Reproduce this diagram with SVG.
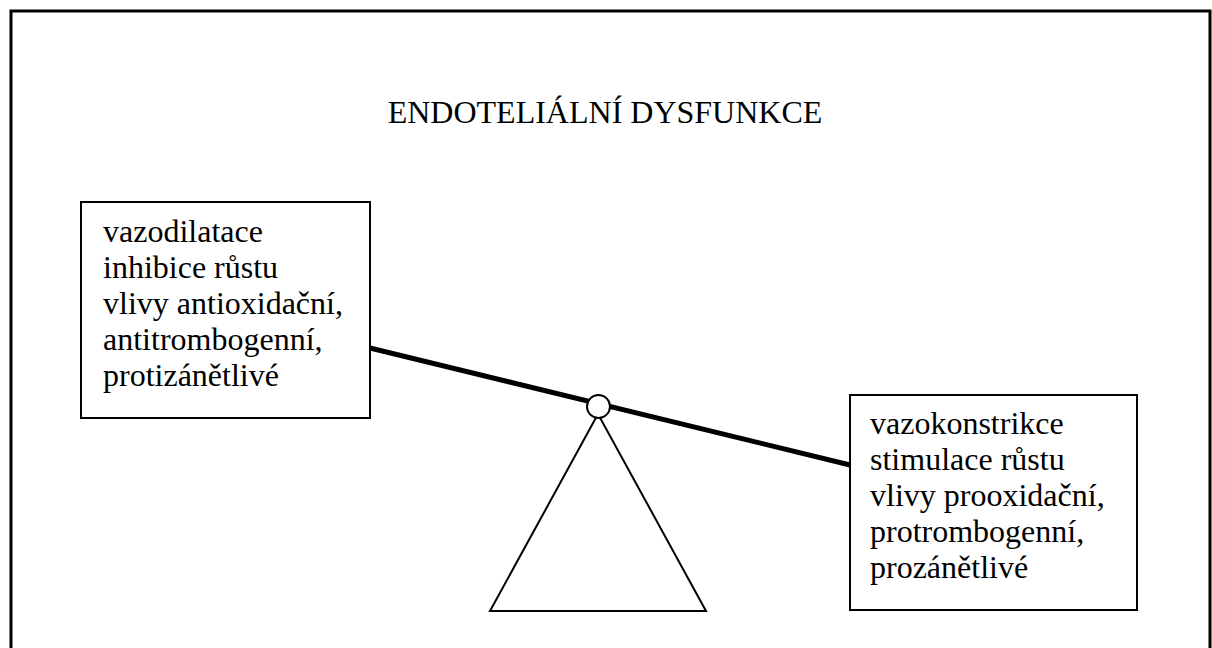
<svg xmlns="http://www.w3.org/2000/svg" width="1212" height="648" viewBox="0 0 1212 648">
<style>
text{font-family:"Liberation Serif","Times New Roman",serif;font-size:32px;fill:#000}
.box{fill:#fff;stroke:#000;stroke-width:2}
.thin{fill:#fff;stroke:#000;stroke-width:2}
</style>
<rect width="1212" height="648" fill="#fff"/>
<path d="M11 660 V11 H1210 V660" fill="none" stroke="#000" stroke-width="3"/>
<text x="605" y="123" text-anchor="middle">ENDOTELIÁLNÍ DYSFUNKCE</text>
<g id="fulcrum">
<polygon class="thin" points="598,414 490,611 706,611"/>
</g>
<g id="connectors">
<line x1="370" y1="348" x2="850" y2="465" stroke="#000" stroke-width="5"/>
</g>
<g id="pivot">
<circle class="thin" cx="598.5" cy="406.5" r="11.5"/>
</g>
<g id="left">
<rect class="box" x="81" y="202" width="289" height="216"/>
<text x="103" y="242">vazodilatace</text>
<text x="103" y="278">inhibice růstu</text>
<text x="103" y="314">vlivy antioxidační,</text>
<text x="103" y="350">antitrombogenní,</text>
<text x="103" y="386">protizánětlivé</text>
</g>
<g id="right">
<rect class="box" x="850" y="395" width="287" height="215"/>
<text x="870" y="434">vazokonstrikce</text>
<text x="870" y="470">stimulace růstu</text>
<text x="870" y="506">vlivy prooxidační,</text>
<text x="870" y="542">protrombogenní,</text>
<text x="870" y="578">prozánětlivé</text>
</g>
</svg>
